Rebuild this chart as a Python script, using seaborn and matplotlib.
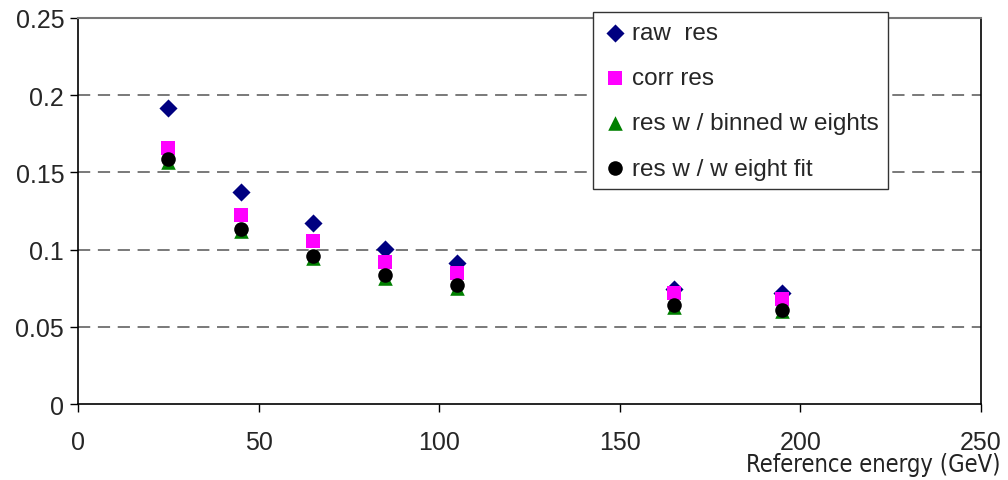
import matplotlib
matplotlib.use("Agg")
import matplotlib.pyplot as plt
import pandas as pd
import seaborn as sns

# reference energies (GeV)
energy = [25, 45, 65, 85, 105, 165, 195]

raw_res = [0.192, 0.137, 0.117, 0.1005, 0.0915, 0.0747, 0.072]
corr_res = [0.1656, 0.1224, 0.1057, 0.0921, 0.085, 0.0722, 0.068]
binned_res = [0.157, 0.112, 0.0947, 0.0818, 0.0754, 0.063, 0.060]
fit_res = [0.159, 0.1134, 0.096, 0.0837, 0.0773, 0.0644, 0.0612]

series_names = ["raw  res", "corr res", "res w / binned w eights", "res w / w eight fit"]
series_values = [raw_res, corr_res, binned_res, fit_res]

x_ticks = [0, 50, 100, 150, 200, 250]
y_ticks = [0, 0.05, 0.1, 0.15, 0.2, 0.25]
y_tick_labels = ["0", "0.05", "0.1", "0.15", "0.2", "0.25"]

rows = []
for name, vals in zip(series_names, series_values):
    for e, v in zip(energy, vals):
        rows.append({"energy": e, "res": v, "series": name})
df = pd.DataFrame(rows)

sns.set_style("white")
plt.rcParams["font.family"] = ["Liberation Sans", "DejaVu Sans"]

fig = plt.figure(figsize=(10.08, 4.81), dpi=100)
ax = fig.add_axes([0.0774, 0.158, 0.8956, 0.8025])

colors = {series_names[0]: "#000080", series_names[1]: "#ff00ff",
          series_names[2]: "#008000", series_names[3]: "#000000"}
markers = {series_names[0]: "D", series_names[1]: "s",
           series_names[2]: "^", series_names[3]: "o"}
sizes = {series_names[0]: 85, series_names[1]: 110,
         series_names[2]: 110, series_names[3]: 110}

for name in series_names:
    sub = df[df["series"] == name]
    sns.scatterplot(data=sub, x="energy", y="res", ax=ax, color=colors[name],
                    marker=markers[name], s=sizes[name], linewidth=0,
                    label=name, zorder=3)

ax.set_xlim(0, 250)
ax.set_ylim(0, 0.25)
ax.set_xticks(x_ticks)
ax.set_yticks(y_ticks)
ax.set_yticklabels(y_tick_labels)
ax.tick_params(axis="both", direction="out", length=6, width=1, color="black",
               labelsize=18, left=True, bottom=True)
ax.tick_params(axis="x", pad=13)
ax.tick_params(axis="y", pad=4)

for yv in y_ticks[1:-1]:
    ax.axhline(yv, color="#555555", linestyle=(0, (8, 5)), linewidth=1.1, zorder=1)

for side in ["left", "bottom", "right"]:
    ax.spines[side].set_color("black")
    ax.spines[side].set_linewidth(1.2)
ax.spines["top"].set_color("#777777")
ax.spines["top"].set_linewidth(1.5)

ax.set_xlabel("")
ax.set_ylabel("")
fig.text(0.993, 0.033, "Reference energy (GeV)", ha="right", va="center",
         fontsize=17, family="DejaVu Sans", stretch="condensed", color="#222222")

leg = ax.legend(loc="upper left", bbox_to_anchor=(0.588, 0.972),
                bbox_transform=fig.transFigure, fontsize=17.5, frameon=True,
                fancybox=False, edgecolor="#333333", framealpha=1,
                labelspacing=0.95, handletextpad=0.2, handlelength=1.0,
                borderpad=0.4, borderaxespad=0)
leg.get_frame().set_linewidth(1.0)
leg.set_zorder(5)

fig.savefig("out.png", dpi=100)
